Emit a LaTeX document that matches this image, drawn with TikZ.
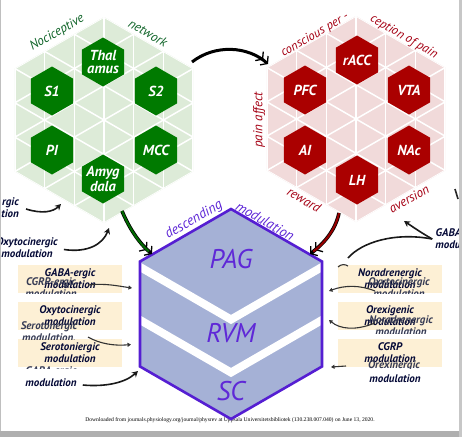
\documentclass[tikz,border=0pt]{standalone}
\usepackage{fontspec}
\setmainfont{PT Sans}
\newfontfamily\footfont{Liberation Serif}
\usetikzlibrary{arrows.meta,shapes.geometric}
\definecolor{hexgreen}{RGB}{221,235,216}
\definecolor{dkgreen}{RGB}{0,122,0}
\definecolor{arrgreen}{RGB}{0,105,0}
\definecolor{txtgreen}{RGB}{15,100,40}
\definecolor{hexpink}{RGB}{241,218,218}
\definecolor{dkred}{RGB}{170,0,0}
\definecolor{arrred}{RGB}{150,0,0}
\definecolor{txtred}{RGB}{165,0,20}
\definecolor{hexblue}{RGB}{165,177,214}
\definecolor{edgeblue}{RGB}{85,30,210}
\definecolor{txtblue}{RGB}{95,40,215}
\definecolor{cream}{RGB}{253,240,213}
\definecolor{navy}{RGB}{5,10,55}
\definecolor{ghost}{RGB}{55,60,85}
\definecolor{framegray}{RGB}{175,175,175}
\begin{document}
\begin{tikzpicture}[x=1pt,y=-1pt,
  gridline/.style={white,line width=1.5pt},
  smallhex/.style={regular polygon,regular polygon sides=6,shape border rotate=30,minimum size=49pt,inner sep=-8pt,text=white,align=center,font=\bfseries\itshape\fontsize{14.5}{12.5}\selectfont},
  edgelab/.style={font=\itshape\fontsize{13}{13}\selectfont,inner sep=0pt},
  modlab/.style={font=\bfseries\itshape\fontsize{11}{12}\selectfont,text=navy,align=center,inner sep=0pt},
  ghostlab/.style={modlab,text=ghost},
  modbox/.style={modlab,fill=cream,minimum width=104pt,minimum height=28pt},
  bigtxt/.style={font=\itshape\fontsize{27}{27}\selectfont,text=txtblue,inner sep=0pt},
  blackarrow/.style={draw=black!90,line width=1.6pt,-{Stealth[length=6pt,width=6.5pt]}},
  ghostarrow/.style={draw=black!80,line width=1.1pt,-{Triangle[length=3.5pt,width=4pt]}},
  dblbarb/.style={-{Straight Barb[length=4.5pt,width=12pt,line width=1.3pt,color=black,sep=0.5pt] Straight Barb[length=4.5pt,width=12pt,line width=1.3pt,color=black]}},
]
\useasboundingbox (0,0) rectangle (462,437);
\fill[white] (0,0) rectangle (462,437);

% footer
\node[font=\footfont\fontsize{5.6}{6}\selectfont,inner sep=0pt] (foot) at (230,420) {Downloaded from journals.physiology.org/journal/physrev at Uppsala Universitetsbibliotek (130.238.007.040) on June 13, 2020.};

% ---------- green hexagon ----------
\coordinate (gT) at (104,17);
\coordinate (gUR) at (193.2,68.5);
\coordinate (gLR) at (193.2,171.5);
\coordinate (gB) at (104,223);
\coordinate (gLL) at (14.8,171.5);
\coordinate (gUL) at (14.8,68.5);
\begin{scope}
\clip (gT) -- (gUR) -- (gLR) -- (gB) -- (gLL) -- (gUL) -- cycle;
\fill[hexgreen] (0,0) rectangle (220,240);
\foreach \k in {-3,...,3} \draw[gridline] ({104+\k*29.73},0) -- ({104+\k*29.73},240);
\foreach \k in {-6,...,6} {
  \draw[gridline] (0,{120-104*0.57735+\k*34.33}) -- (210,{120+106*0.57735+\k*34.33});
  \draw[gridline] (0,{120+104*0.57735+\k*34.33}) -- (210,{120-106*0.57735+\k*34.33});
}
\end{scope}
\node[smallhex,fill=dkgreen] (thal) at (103,62) {Thal\\amus};
\node[smallhex,fill=dkgreen] (s1) at (52,91) {S1};
\node[smallhex,fill=dkgreen] (s2) at (156,91) {S2};
\node[smallhex,fill=dkgreen] (pi) at (52,150) {PI};
\node[smallhex,fill=dkgreen] (mcc) at (156,150) {MCC};
\node[smallhex,fill=dkgreen] (amyg) at (103,179) {Amyg\\dala};
\node[edgelab,text=txtgreen,rotate=30] (noci) at (57,33) {Nociceptive};
\node[edgelab,text=txtgreen,rotate=-30] (netw) at (148,33) {network};

% ---------- red hexagon ----------
\coordinate (rT) at (356,16);
\coordinate (rUR) at (445.2,67.5);
\coordinate (rLR) at (445.2,170.5);
\coordinate (rB) at (356,222);
\coordinate (rLL) at (266.8,170.5);
\coordinate (rUL) at (266.8,67.5);
\begin{scope}
\clip (rT) -- (rUR) -- (rLR) -- (rB) -- (rLL) -- (rUL) -- cycle;
\fill[hexpink] (250,0) rectangle (462,240);
\foreach \k in {-3,...,3} \draw[gridline] ({356+\k*29.73},0) -- ({356+\k*29.73},240);
\foreach \k in {-6,...,6} {
  \draw[gridline] (250,{119-106*0.57735+\k*34.33}) -- (462,{119+106*0.57735+\k*34.33});
  \draw[gridline] (250,{119+106*0.57735+\k*34.33}) -- (462,{119-106*0.57735+\k*34.33});
}
\end{scope}
\node[smallhex,fill=dkred] (racc) at (357,60) {rACC};
\node[smallhex,fill=dkred] (pfc) at (305,90) {PFC};
\node[smallhex,fill=dkred] (vta) at (409,90) {VTA};
\node[smallhex,fill=dkred] (ai) at (305,150) {AI};
\node[smallhex,fill=dkred] (nac) at (409,150) {NAc};
\node[smallhex,fill=dkred] (lh) at (357,180) {LH};
\node[edgelab,text=txtred,font=\itshape\fontsize{12.5}{13}\selectfont,rotate=30] (consc) at (315,35) {conscious per -};
\node[edgelab,text=txtred,font=\itshape\fontsize{12.5}{13}\selectfont,rotate=-30] (cept) at (404,37) {ception of pain};
\node[edgelab,text=txtred,rotate=90] (paina) at (259,120) {pain affect};
\node[edgelab,text=txtred,rotate=-30] (rew) at (304,200) {reward};
\node[edgelab,text=txtred,rotate=30] (avers) at (409,199) {aversion};

% ---------- blue hexagon ----------
\coordinate (bT) at (231,209);
\coordinate (bUR) at (322,261.5);
\coordinate (bLR) at (322,366.5);
\coordinate (bB) at (231,419);
\coordinate (bLL) at (140,366.5);
\coordinate (bUL) at (140,261.5);
\begin{scope}
\clip (bT) -- (bUR) -- (bLR) -- (bB) -- (bLL) -- (bUL) -- cycle;
\fill[hexblue] (130,200) rectangle (335,425);
\draw[white,line width=8pt] (130,261.2) -- (231,319.5) -- (332,261.2);
\draw[white,line width=8pt] (130,314.2) -- (231,372.5) -- (332,314.2);
\end{scope}
\draw[edgeblue,line width=2.6pt,line join=miter] (bT) -- (bUR) -- (bLR) -- (bB) -- (bLL) -- (bUL) -- cycle;
\node[bigtxt] (pag) at (231,259) {PAG};
\node[bigtxt] (rvm) at (231,333) {RVM};
\node[bigtxt] (sc) at (231,391) {SC};
\node[edgelab,text=txtblue,font=\itshape\fontsize{14}{14}\selectfont,rotate=30] (desc) at (194,220) {descending};
\node[edgelab,text=txtblue,font=\itshape\fontsize{14}{14}\selectfont,rotate=-30] (modu) at (265,221) {modulation};

% ---------- boxes ----------
\node[modbox] (lb1) at (70,279) {GABA-ergic\\modulation};
\node[modbox] (lb2) at (70,316) {Oxytocinergic\\modulation};
\node[modbox] (lb3) at (70,353) {Serotoniergic\\modulation};
\node[modbox] (rb1) at (390,279) {Noradrenergic\\modulation};
\node[modbox] (rb2) at (390,316) {Orexigenic\\modulation};
\node[modbox] (rb3) at (390,352.5) {CGRP\\modulation};

% ghost (overlapping) labels
\begin{scope}
\clip (0,262) rectangle (135,293.5);
\node[ghostlab] (gcgrp) at (51,288) {CGRP-ergic\\modulation};
\end{scope}
\begin{scope}
\clip (0,318) rectangle (135,339.5);
\node[ghostlab] (gsero) at (49,332) {Serotonergic\\modulation,};
\end{scope}
\begin{scope}
\clip (0,362) rectangle (135,368.5);
\node[ghostlab] (ggaba) at (51,371.5) {GABA-ergic};
\end{scope}
\node[modlab] (modL) at (51,383) {modulation};
\begin{scope}
\clip (330,262) rectangle (445,293.5);
\node[ghostlab] (goxy) at (399,288) {Oxytocinergic\\modulation};
\end{scope}
\begin{scope}
\clip (330,300) rectangle (445,333.5);
\node[ghostlab] (gnor) at (401,326) {Noradrenergic\\modulation};
\end{scope}
\begin{scope}
\clip (330,360) rectangle (445,368.5);
\node[ghostlab] (gorex) at (394,366) {Orexinergic};
\end{scope}
\node[modlab] (modR) at (395,379) {modulation};

% ghost arrows
\coordinate (la1) at (88,285);   \coordinate (la1t) at (132,288);
\coordinate (la3) at (88,337);   \coordinate (la3t) at (131,344.5);
\coordinate (ra1) at (375,291);  \coordinate (ra1t) at (329,291);
\coordinate (ra2) at (375,323);  \coordinate (ra2t) at (329,320);
\coordinate (ra3) at (346,366);  \coordinate (ra3t) at (331,367);
\draw[ghostarrow] (la1) .. controls (105,283) and (118,286) .. (la1t);
\draw[ghostarrow] (la3) .. controls (100,344) and (115,346) .. (la3t);
\draw[ghostarrow] (ra1) .. controls (360,285) and (345,285) .. (ra1t);
\draw[ghostarrow] (ra2) .. controls (355,331) and (340,329) .. (ra2t);
\draw[ghostarrow] (ra3) -- (ra3t);
\draw[black!80,line width=1.1pt] (338,267) .. controls (341,264) and (345,264) .. (348,266);

% ---------- side labels and arrows ----------
\node[modlab,anchor=east,align=right] (rgic) at (19,207.5) {rgic\\tion};
\node[modlab] (oxyL) at (27,247.5) {Oxytocinergic\\modulation};
\node[modlab] (gabaR) at (461,239) {GABA-ergic\\modulation};

\coordinate (rgicTip) at (61,204);
\coordinate (oxyTip) at (109,228);
\coordinate (modLTip) at (138,371);
\coordinate (gabaTip) at (404,221);
\coordinate (gabaPag) at (348,258);
\draw[blackarrow] ([xshift=7pt,yshift=-1.5pt]rgic.east) .. controls (42,214) and (53,212) .. (rgicTip);
\draw[blackarrow] ([xshift=6pt,yshift=-2pt]oxyL.east) .. controls (88,253) and (103,244) .. (oxyTip);
\draw[blackarrow] ([xshift=6pt,yshift=-2pt]modL.east) .. controls (105,387) and (125,383) .. (modLTip);
\draw[blackarrow] ([xshift=-3pt]gabaR.west) .. controls (420,232) and (413,227) .. (gabaTip);
\draw[black!90,line width=1.6pt] ([xshift=-3pt]gabaR.west) .. controls (395,232) and (362,242) .. (gabaPag);
\coordinate (edgeA) at (455,189); \coordinate (edgeB) at (458,199);
\draw[black!85,line width=1.6pt] (edgeA) -- (edgeB);

% ---------- main arrows ----------
\coordinate (gStart) at (192,62);
\coordinate (rEnd) at (268,64);
\draw[black,line width=3pt,dblbarb] (gStart) .. controls (215,44) and (248,46) .. (rEnd);

\coordinate (amygOut) at (122,211);
\coordinate (pagInL) at (152,254);
\draw[black,line width=3.6pt,dblbarb] (amygOut) .. controls (130,230) and (140,244) .. (pagInL);
\draw[arrgreen,line width=2.1pt,shorten >=4pt] (amygOut) .. controls (130,230) and (140,244) .. (pagInL);

\coordinate (lhOut) at (339,213);
\coordinate (pagInR) at (310,254);
\draw[black,line width=3.6pt,dblbarb] (lhOut) .. controls (335,232) and (322,245) .. (pagInR);
\draw[arrred,line width=2.1pt,shorten >=4pt] (lhOut) .. controls (335,232) and (322,245) .. (pagInR);

% ---------- frame ----------
\fill[framegray] (0,431) rectangle (462,437);
\fill[black!22] (458.5,0) rectangle (462,437);
\fill[black!25] (0,0) rectangle (1.2,431);
\end{tikzpicture}
\end{document}
